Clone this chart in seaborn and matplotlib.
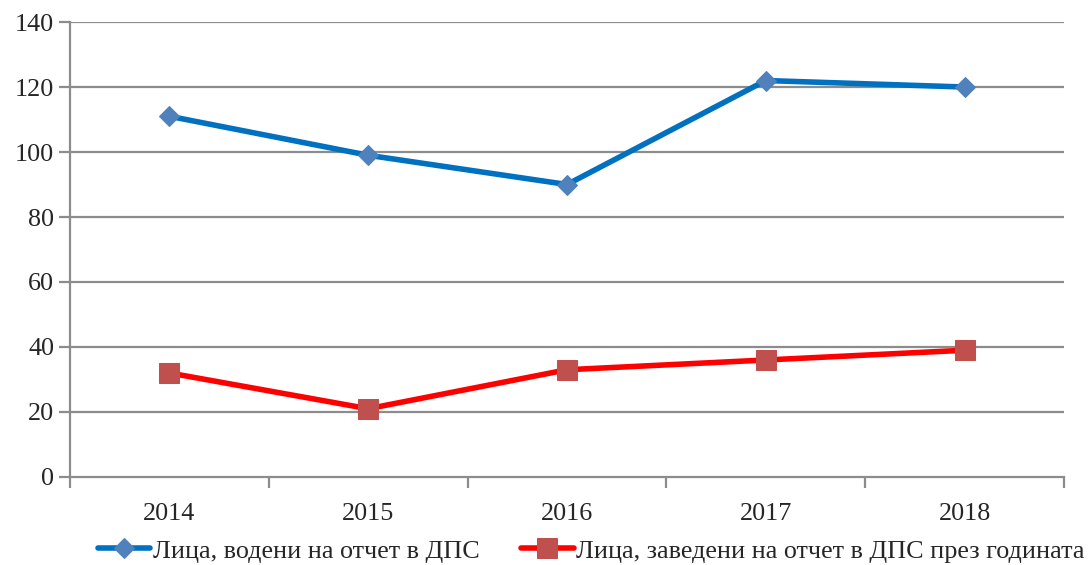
import pandas as pd
import numpy as np
import seaborn as sns
import matplotlib.pyplot as plt

# данни
years = ['2014', '2015', '2016', '2017', '2018']
vodeni = [111, 99, 90, 122, 120]
zavedeni = [32, 21, 33, 36, 39]
lbl_vodeni = 'Лица, водени на отчет в ДПС'
lbl_zavedeni = 'Лица, заведени на отчет в ДПС през годината'

sns.set_style('white')
plt.rcParams['font.family'] = ['Liberation Serif', 'DejaVu Serif']
fs = 18.8

fig = plt.figure(figsize=(10.89, 5.65), dpi=100)
ax = fig.add_axes([0.0643, 0.1558, 0.9127, 0.8052])

grid_c = '#8c8c8c'
for v in range(20, 141, 20):
    ax.axhline(v, color=grid_c, lw=1.6, zorder=0)

sns.lineplot(x=years, y=vodeni, ax=ax, color='#0070C0', lw=4, marker='D',
             markersize=10, markerfacecolor='#4F81BD', markeredgecolor='#4F81BD',
             label=lbl_vodeni, sort=False)
sns.lineplot(x=years, y=zavedeni, ax=ax, color='#FF0000', lw=4, marker='s',
             markersize=15, markerfacecolor='#C0504D', markeredgecolor='#C0504D',
             label=lbl_zavedeni, sort=False)

ax.set_xlim(-0.5, 4.5)
ax.set_ylim(0, 140)
ax.set_yticks(range(0, 141, 20))
ax.set_xticks(range(len(years)))
ax.set_xticklabels(years)
ax.set_xticks(np.arange(-0.5, 4.6, 1), minor=True)
ax.tick_params(axis='x', which='major', length=0, pad=19, labelsize=fs)
ax.tick_params(axis='x', which='minor', length=8, width=1.6, color=grid_c, direction='out')
ax.tick_params(axis='y', length=8, width=1.6, color=grid_c, direction='out', labelsize=fs, pad=3.5)
ax.tick_params(bottom=True, left=True, which='both')

for s in ['top', 'right']:
    ax.spines[s].set_visible(False)
for s in ['left', 'bottom']:
    ax.spines[s].set_color(grid_c)
    ax.spines[s].set_linewidth(1.6)

ax.legend(loc='center', bbox_to_anchor=(0.543, 0.025), bbox_transform=fig.transFigure,
          ncol=2, frameon=False, fontsize=fs, handlelength=2.0, handletextpad=0.1,
          columnspacing=1.6, borderpad=0, borderaxespad=0)

fig.savefig('out.png', dpi=100)
